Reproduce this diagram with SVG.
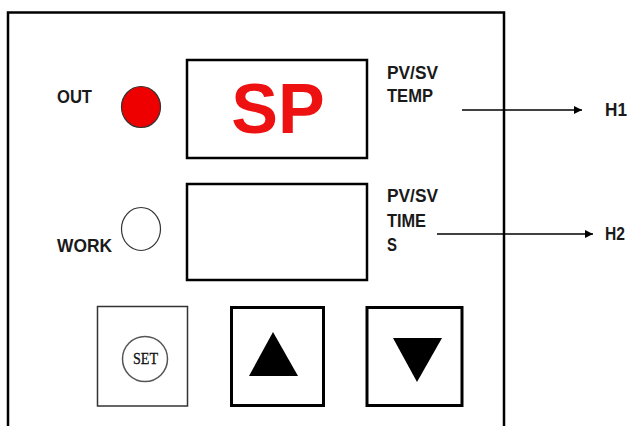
<svg xmlns="http://www.w3.org/2000/svg" width="630" height="426" viewBox="0 0 630 426">
<defs>
<style>
.lbl{font-family:"Liberation Sans",Arial,sans-serif;font-weight:bold;font-size:19px;fill:#1a1a1a}
.box{fill:#fff;stroke:#000;stroke-width:2.5}
.btn{fill:#fff;stroke:#000;stroke-width:3}
.conn{stroke:#000;stroke-width:1.5;fill:none}
</style>
<marker id="ah" viewBox="0 0 10 10" refX="10" refY="5" markerWidth="10" markerHeight="8" markerUnits="userSpaceOnUse" orient="auto">
<path d="M0,0 L10,5 L0,10 z" fill="#000"/>
</marker>
</defs>
<rect width="630" height="426" fill="#fff"/>
<g id="panel">
<path d="M8,430 V12.5 H504 V430" fill="none" stroke="#000" stroke-width="2.5"/>
</g>
<g id="out">
<text class="lbl" x="57" y="103" textLength="35" lengthAdjust="spacingAndGlyphs">OUT</text>
<ellipse cx="141" cy="107" rx="19.5" ry="20.5" fill="#ee0000" stroke="#333" stroke-width="1.2"/>
</g>
<g id="work">
<text class="lbl" x="57" y="252" textLength="55" lengthAdjust="spacingAndGlyphs">WORK</text>
<ellipse cx="141" cy="229" rx="19.5" ry="21.5" fill="#fff" stroke="#333" stroke-width="1.2"/>
</g>
<g id="display1">
<rect class="box" x="187" y="60" width="180" height="98"/>
<text x="278" y="133" text-anchor="middle" font-family="Liberation Sans, Arial, sans-serif" font-weight="bold" font-size="70" fill="#ee1111">SP</text>
</g>
<g id="label1">
<text class="lbl" x="387" y="79" textLength="51" lengthAdjust="spacingAndGlyphs">PV/SV</text>
<text class="lbl" x="387" y="102" textLength="46" lengthAdjust="spacingAndGlyphs">TEMP</text>
</g>
<g id="display2">
<rect class="box" x="187" y="184" width="180" height="96"/>
</g>
<g id="label2">
<text class="lbl" x="387" y="202" textLength="51" lengthAdjust="spacingAndGlyphs">PV/SV</text>
<text class="lbl" x="387" y="227" textLength="39" lengthAdjust="spacingAndGlyphs">TIME</text>
<text class="lbl" x="387" y="251" textLength="10" lengthAdjust="spacingAndGlyphs">S</text>
</g>
<g id="h1">
<text class="lbl" x="605" y="116" textLength="22" lengthAdjust="spacingAndGlyphs">H1</text>
</g>
<g id="h2">
<text class="lbl" x="605" y="240" textLength="20" lengthAdjust="spacingAndGlyphs">H2</text>
</g>
<g id="set">
<rect x="97.5" y="306.5" width="90" height="99.5" fill="#fff" stroke="#333" stroke-width="1.5"/>
<circle cx="145" cy="359" r="22.5" fill="#fff" stroke="#555" stroke-width="1.5"/>
<text x="145.5" y="364" text-anchor="middle" font-family="Liberation Serif, 'Times New Roman', serif" font-size="17" textLength="25" lengthAdjust="spacingAndGlyphs" fill="#111" stroke="#111" stroke-width="0.3">SET</text>
</g>
<g id="up">
<rect class="btn" x="231.5" y="307.5" width="92" height="98"/>
<polygon points="273,332 298,376 249,376" fill="#000"/>
</g>
<g id="down">
<rect class="btn" x="367" y="307.5" width="95" height="98"/>
<polygon points="393,338 442,338 417,382" fill="#000"/>
</g>
<g id="connectors">
<line class="conn" x1="462" y1="110" x2="582" y2="110" marker-end="url(#ah)"/>
<line class="conn" x1="437" y1="234" x2="593" y2="234" marker-end="url(#ah)"/>
</g>
</svg>
